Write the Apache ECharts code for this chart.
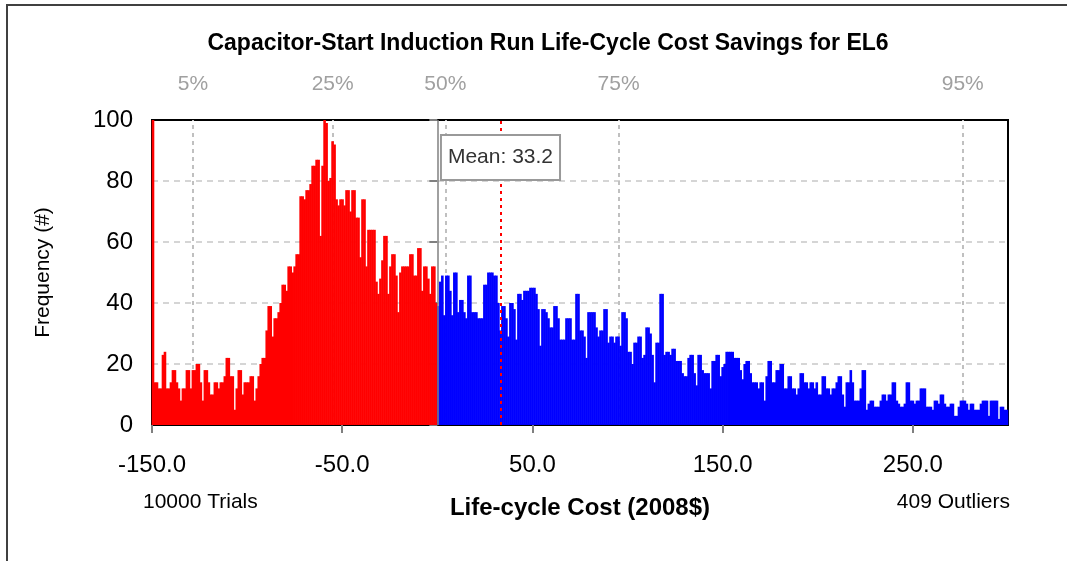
<!DOCTYPE html>
<html>
<head>
<meta charset="utf-8">
<script src="https://cdn.jsdelivr.net/npm/echarts@6/dist/echarts.min.js"></script>
<style>
html, body { margin: 0; padding: 0; background: #fff; }
#chart { width: 1067px; height: 561px; }
</style>
</head>
<body>
<div id="chart"></div>
<script>
// 频数 (负值段, -150 ~ 0)
var redFreq = [
	100,14,14,12,12,23,24,12,12,14,
	18,18,14,12,8,12,12,18,18,12,
	18,18,20,20,14,8,18,18,14,10,
	10,14,14,12,14,14,16,22,22,16,
	16,5,12,18,18,10,14,14,14,16,
	16,8,12,16,20,22,22,31,39,39,
	29,35,35,37,40,46,46,44,52,52,
	50,52,56,56,
	75,75,74,77,77,79,85,85,87,87,
	62,85,100,99,80,81,93,92,74,72,
	74,74,72,77,77,70,77,77,68,68,
	55,74,74,52,64,64,64,64,47,43,
	48,54,62,62,43,52,56,56,49,37,
	50,52,52,52,52,56,56,49,49,58,
	58,44,52,52,48,43,52,52,40
];
// 频数 (正值段, 0 ~ 300)
var blueFreq = [
	39,47,49,36,49,49,44,36,50,50,
	37,41,41,37,35,49,49,37,37,37,
	35,35,35,46,46,50,50,50,49,49,
	40,31,39,39,35,29,40,40,38,28,
	43,43,41,44,44,44,45,45,45,43,
	38,26,38,38,37,35,32,32,39,39,
	35,28,28,28,35,35,35,28,28,43,
	43,31,31,29,22,37,37,37,37,32,
	29,31,31,38,38,27,29,29,27,29,
	29,26,37,37,35,24,24,20,27,27,
	29,29,22,23,32,32,30,23,14,27,
	27,43,43,23,24,24,23,25,25,21,
	21,21,17,16,16,22,23,23,17,13,
	23,23,18,17,17,17,12,21,21,23,
	23,16,19,20,24,24,24,24,22,
	22,22,18,15,20,21,21,17,14,14,
	14,12,14,14,8,16,21,21,14,14,
	18,18,20,20,12,12,16,16,12,12,
	10,12,17,17,14,14,12,14,14,12,
	14,10,10,16,16,12,12,10,12,12,
	14,16,16,10,6,14,14,18,14,8,
	8,8,12,18,18,5,7,8,8,6,
	6,6,8,10,10,8,
	10,10,14,14,8,7,6,6,7,14,
	14,8,8,7,8,8,12,12,12,6,
	6,6,5,8,8,7,10,10,7,6,
	6,7,7,3,3,6,8,8,8,7,
	5,7,7,5,5,5,7,8,8,8,
	3,8,8,8,8,2,6,6,5,5
];
var xTicks = [-150, -50, 50, 150, 250];
var pctNames = ['5%', '25%', '50%', '75%', '95%'];
var pctValues = [-128.5, -55, 4.2, 95.3, 276.2];
var meanValue = 33.2;
var xMin = -150, xMid = 0, xMax = 300;

// 把每个区间的频数转成 [区间中心, 频数]
function toPoints(arr, start, end) {
	var w = (end - start) / arr.length;
	return arr.map(function(v, i) {
		return [start + (i + 0.5) * w, v];
	});
}

var font = 'Liberation Sans, Arial, sans-serif';
var myChart = echarts.init(document.getElementById('chart'));

var option = {
	animation : false,
	backgroundColor : '#fff',
	textStyle : { fontFamily : font },
	grid : {
		left : 152,
		right : 59,
		top : 120,
		bottom : 136,
		show : true,
		borderColor : '#000',
		borderWidth : 2
	},
	xAxis : {
		type : 'value',
		min : xMin,
		max : xMax,
		name : 'Life-cycle Cost (2008$)',
		nameLocation : 'middle',
		nameGap : 71,
		nameTextStyle : { fontSize : 24, fontWeight : 'bold', color : '#000', fontFamily : font },
		axisLine : { show : true, lineStyle : { color : '#000', width : 2 } },
		axisTick : { show : true, length : 8, lineStyle : { color : '#808080', width : 2 }, customValues : xTicks },
		axisLabel : {
			fontSize : 24, color : '#000', margin : 28, fontFamily : font,
			customValues : xTicks,
			formatter : function(v) { return v.toFixed(1); }
		},
		splitLine : { show : false }
	},
	yAxis : {
		type : 'value',
		min : 0,
		max : 100,
		interval : 20,
		name : 'Frequency (#)',
		nameLocation : 'middle',
		nameGap : 98,
		nameTextStyle : { fontSize : 21, color : '#000', fontFamily : font },
		axisLine : { show : false },
		axisTick : { show : true, length : 8, lineStyle : { color : '#808080', width : 2 } },
		axisLabel : { fontSize : 24, color : '#000', margin : 19, fontFamily : font },
		splitLine : { show : true, showMaxLine : false, showMinLine : false, lineStyle : { color : '#c8c8c8', width : 1.5, type : [6, 5] } }
	},
	series : [{
		// 百分位线 (在柱子下面)
		type : 'line',
		data : [],
		z : 1,
		markLine : {
			silent : true,
			z : 1,
			symbol : ['none', 'none'],
			lineStyle : { color : '#c0c0c0', width : 2, type : [4, 4] },
			label : {
				show : true, position : 'end', distance : 25,
				fontSize : 21, color : '#a0a0a0', fontFamily : font,
				formatter : function(p) { return p.name; }
			},
			data : pctValues.map(function(v, i) { return { name : pctNames[i], xAxis : v }; })
		}
	}, {
		name : 'neg',
		type : 'bar',
		data : toPoints(redFreq, xMin, xMid),
		barWidth : 2.6,
		barGap : '-100%',
		itemStyle : { color : '#ff0000' },
		z : 2
	}, {
		name : 'pos',
		type : 'bar',
		data : toPoints(blueFreq, xMid, xMax),
		barWidth : 2.6,
		barGap : '-100%',
		itemStyle : { color : '#0000ff' },
		z : 2
	}, {
		// 零线、均值线和均值标签
		type : 'line',
		data : [],
		z : 5,
		markLine : {
			silent : true,
			z : 5,
			symbol : ['none', 'none'],
			label : { show : false },
			data : [
				{ xAxis : xMid, lineStyle : { color : '#808080', width : 1.5, type : 'solid' } },
				{ xAxis : meanValue, lineStyle : { color : '#ff0000', width : 2, type : [3, 4] } }
			]
		},
		markPoint : {
			silent : true,
			z : 6,
			symbol : 'rect',
			symbolSize : 1,
			itemStyle : { color : 'rgba(0,0,0,0)' },
			label : {
				show : true,
				position : 'inside',
				formatter : 'Mean: ' + meanValue.toFixed(1),
				fontSize : 21,
				color : '#333',
				fontFamily : font,
				backgroundColor : '#fff',
				borderColor : '#999',
				borderWidth : 2,
				padding : [11, 6]
			},
			data : [{ coord : [meanValue, 87.7] }]
		}
	}],
	graphic : [{
		type : 'rect',
		silent : true,
		shape : { x : 7, y : 5, width : 1200, height : 700 },
		style : { fill : 'none', stroke : '#404040', lineWidth : 2 }
	}, {
		type : 'text',
		x : 548, y : 44,
		style : {
			text : 'Capacitor-Start Induction Run Life-Cycle Cost Savings for EL6',
			font : 'bold 23px ' + font, fill : '#000',
			textAlign : 'center', textVerticalAlign : 'middle'
		}
	}, {
		type : 'text',
		x : 143, y : 502,
		style : {
			text : '10000 Trials', font : '21px ' + font, fill : '#000',
			textAlign : 'left', textVerticalAlign : 'middle'
		}
	}, {
		type : 'text',
		x : 1010, y : 502,
		style : {
			text : '409 Outliers', font : '21px ' + font, fill : '#000',
			textAlign : 'right', textVerticalAlign : 'middle'
		}
	}]
};
myChart.setOption(option);
</script>
</body>
</html>
